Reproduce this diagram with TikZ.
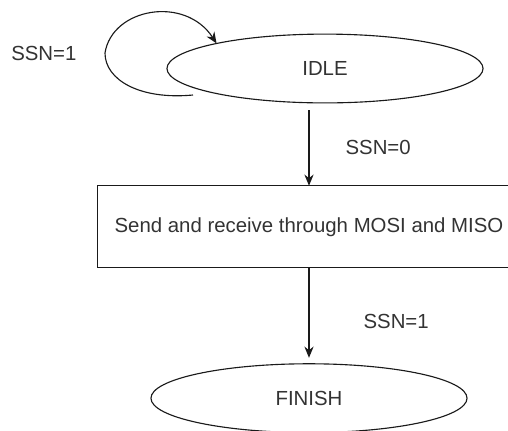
\documentclass[tikz,border=0pt]{standalone}
\usepackage{fontspec}
\setmainfont{Liberation Sans}
\usepackage{tikz}
\usetikzlibrary{arrows.meta,positioning,calc,shapes.geometric}
\usepackage{xcolor}
\definecolor{fsmline}{HTML}{1A1A1A}
\definecolor{fsmtext}{HTML}{333333}
\tikzset{
  statenode/.style={
    ellipse,
    draw=fsmline,
    thick,
    outer sep=0pt,
    minimum width=7.9cm,
    minimum height=1.72cm,
    text=fsmtext,
    font=\fontsize{14.5}{17}\selectfont
  },
  actionbox/.style={
    rectangle,
    draw=fsmline,
    thick,
    outer sep=0pt,
    minimum width=10.56cm,
    minimum height=2.05cm,
    text=fsmtext,
    font=\fontsize{14.5}{17}\selectfont
  },
  guard/.style={
    text=fsmtext,
    inner sep=0pt,
    font=\fontsize{14.5}{17}\selectfont
  },
  arrow/.style={
    -{Stealth[length=2.8mm,width=2.3mm]},
    thick,
    draw=fsmline
  }
}
\begin{document}
\begin{tikzpicture}[x=0.025cm, y=-0.025cm]
\useasboundingbox (0,0) rectangle (508,430);
\node[statenode] (idle) at (325,68.5) {IDLE};
\node[actionbox, below=2.07cm of idle, xshift=-0.4cm] (act) {Send and receive through MOSI and MISO};
\node[statenode, below=2.4cm of act] (finish) {FINISH};
\coordinate (loopout) at (193,95);
% self loop on IDLE
\draw[arrow] (loopout)
  .. controls (140,100) and (105,80) .. (105,53)
  node[guard, left=0.7cm] (loopguard) {SSN=1}
  .. controls (112,8) and (185,-5) .. (idle.167);
\draw[arrow] ($(idle.south -| act.north)+(0,-0.18cm)$) -- node[guard, right=0.9cm] (startguard) {SSN=0} (act.north);
\draw[arrow] (act.south) -- node[guard, pos=0.6, right=1.35cm] (doneguard) {SSN=1} ($(finish.north)+(0,0.15cm)$);
\end{tikzpicture}
\end{document}
